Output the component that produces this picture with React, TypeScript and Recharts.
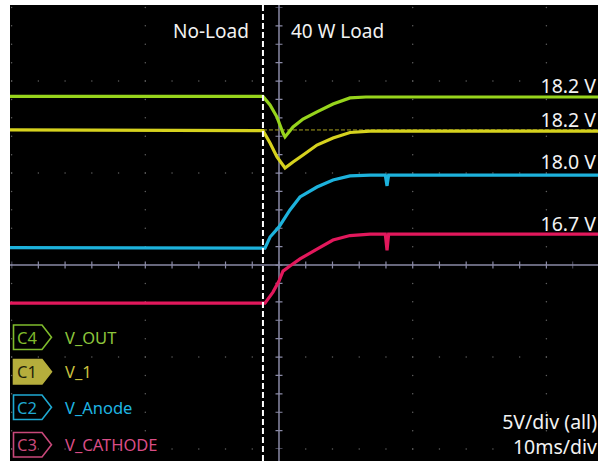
import React from "react";
import { LineChart, Line, XAxis, YAxis, ReferenceLine } from "recharts";

// time in ms (10 ms/div), screen voltage in V (5 V/div), 0 = screen centre
const vOutT = [-20.12, -1.2, -0.67, -0.15, 0.3, 0.45, 1.05, 1.8, 2.84, 4.04, 5.31, 6.5, 23.86];
const vOutV = [9.16, 9.16, 8.7, 8.04, 7.17, 6.96, 7.5, 7.93, 8.32, 8.75, 9.08, 9.13, 9.13];

const v1T = [-20.12, -1.2, -0.67, -0.15, 0.45, 1.05, 1.8, 2.84, 4.04, 5.31, 6.81, 23.86];
const v1V = [7.34, 7.3, 6.63, 5.87, 5.27, 5.6, 5.98, 6.52, 6.9, 7.2, 7.28, 7.28];

const anodeT = [-20.12, -1.05, -0.67, 0, 0.82, 1.57, 2.84, 4.04, 5.31, 6.81, 7.95, 8.08, 8.2, 23.86];
const anodeV = [0.95, 0.92, 1.52, 2.07, 2.99, 3.7, 4.24, 4.62, 4.84, 4.89, 4.89, 4.3, 4.89, 4.89];

const cathodeT = [-20.12, -1.05, -0.45, 0, 0.3, 0.82, 1.57, 2.84, 4.04, 5.31, 6.81, 7.95, 8.08, 8.2, 23.86];
const cathodeV = [-2.07, -2.07, -1.47, -0.87, -0.33, -0.05, 0.33, 0.87, 1.36, 1.6, 1.68, 1.68, 0.8, 1.68, 1.68];

const xDomain = [-20.12, 23.86];
const yDomain = [-10.65, 14.13];
const gridTimes = [-20, -10, 10, 20];
const gridVolts = [10, 5, -5, -10];
const loadStepTime = -1.2;
const v1RefLevel = 7.34;

const valueLabels = ["18.2 V", "18.2 V", "18.0 V", "16.7 V"];
const channelIds = ["C4", "C1", "C2", "C3"];
const channelNames = ["V_OUT", "V_1", "V_Anode", "V_CATHODE"];

const zip = (t: number[], v: number[]) => t.map((x, i) => ({ t: x, v: v[i] }));

const traceColors = ["#97d41c", "#d6d21e", "#1db2dc", "#e2185c"];
const badgeColors = ["#7fbb2c", "#b5ad3c", "#1fa9d2", "#c9487a"];
const nameColors = ["#8dc63c", "#c9c13f", "#1fb5e2", "#da4d86"];
const FONT = "'Noto Sans', 'DejaVu Sans', sans-serif";

export default function App() {
  const series = [zip(vOutT, vOutV), zip(v1T, v1V), zip(anodeT, anodeV), zip(cathodeT, cathodeV)];
  const labelPos = [
    { y: 92.5 },
    { y: 127 },
    { y: 169 },
    { y: 230.5 },
  ];
  const badgeTops = [325, 359.5, 395, 432.5];
  return (
    <div style={{ position: "absolute", left: 0, top: 0, width: 598, height: 461, background: "#fff", overflow: "hidden" }}>
      <div style={{ position: "absolute", left: 10, top: 5, width: 588, height: 456, background: "#000" }}>
        <LineChart width={588} height={456} margin={{ top: 0, right: 0, bottom: 0, left: 0 }}>
          <XAxis type="number" dataKey="t" domain={xDomain} hide allowDataOverflow />
          <YAxis type="number" dataKey="v" domain={yDomain} hide allowDataOverflow />
          {gridTimes.map((t) => (
            <ReferenceLine
              key={"gt" + t}
              segment={[{ x: t, y: -10 }, { x: t, y: 14 }]}
              stroke="#5e5e5e"
              strokeWidth={1.5}
              strokeDasharray="0 18.4"
              strokeLinecap="round"
            />
          ))}
          {gridVolts.map((v) => (
            <ReferenceLine
              key={"gv" + v}
              segment={[{ x: -20, y: v }, { x: 22, y: v }]}
              stroke="#5e5e5e"
              strokeWidth={1.5}
              strokeDasharray="0 26.74"
              strokeLinecap="round"
            />
          ))}
          <ReferenceLine x={0} stroke="#8a8aa6" strokeWidth={1.5} />
          <ReferenceLine y={0} stroke="#8a8aa6" strokeWidth={1.5} />
          <ReferenceLine
            segment={[{ x: 0, y: -10 }, { x: 0, y: 14 }]}
            stroke="#8a8aa6"
            strokeWidth={7}
            strokeDasharray="1.2 17.2"
            strokeDashoffset={0.6}
          />
          <ReferenceLine
            segment={[{ x: -20, y: 0 }, { x: 22, y: 0 }]}
            stroke="#8a8aa6"
            strokeWidth={7}
            strokeDasharray="1.2 25.54"
            strokeDashoffset={0.6}
          />
          <ReferenceLine
            segment={[{ x: loadStepTime, y: v1RefLevel }, { x: 23.8, y: v1RefLevel }]}
            stroke="#a9a21f"
            strokeWidth={1}
            strokeDasharray="4 2"
          />
          {series.map((d, i) => (
            <Line
              key={channelIds[i]}
              data={d}
              dataKey="v"
              type="linear"
              stroke={traceColors[i]}
              strokeWidth={3.2}
              dot={false}
              isAnimationActive={false}
            />
          ))}
          <ReferenceLine x={loadStepTime} stroke="#ffffff" strokeWidth={2} strokeDasharray="6 3" />
        </LineChart>
      </div>
      <svg width={598} height={461} style={{ position: "absolute", left: 0, top: 0, pointerEvents: "none" }}>
        <g fontFamily={FONT} fill="#f2f2f2">
          <text x={173} y={38} fontSize={19}>No-Load</text>
          <text x={291} y={38} fontSize={19}>40 W Load</text>
          {valueLabels.map((s, i) => (
            <text key={"vl" + i} x={596} y={labelPos[i].y} fontSize={19.5} textAnchor="end">{s}</text>
          ))}
          <text x={597} y={429} fontSize={19.5} textAnchor="end">5V/div (all)</text>
          <text x={597} y={454} fontSize={19.5} textAnchor="end">10ms/div</text>
        </g>
        {channelIds.map((c, i) => {
          const top = badgeTops[i];
          const h = 24.5;
          const filled = i === 1;
          const path = `M13.5,${top} H42 L51.5,${top + h / 2} L42,${top + h} H13.5 Z`;
          return (
            <g key={c} fontFamily={FONT}>
              <path d={path} fill={filled ? badgeColors[i] : "none"} stroke={badgeColors[i]} strokeWidth={1.6} />
              <text x={17} y={top + 18.5} fontSize={16.5} fill={filled ? "#1e1e0a" : badgeColors[i]}>{c}</text>
              <text x={65} y={top + 18.8} fontSize={16.5} fill={nameColors[i]}>{channelNames[i]}</text>
            </g>
          );
        })}
      </svg>
    </div>
  );
}
